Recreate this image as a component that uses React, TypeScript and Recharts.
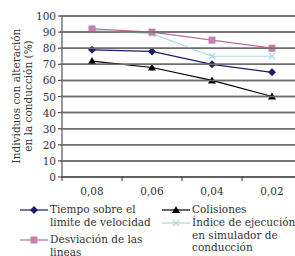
import { LineChart, Line, XAxis, YAxis, CartesianGrid } from "recharts"

const categories = ["0,08", "0,06", "0,04", "0,02"]
const tiempo = [79, 78, 70, 65]
const colisiones = [72, 68, 60, 50]
const desviacion = [92, 90, 85, 80]
const indice = [91, 89, 75, 75]
const yTicks = [0, 10, 20, 30, 40, 50, 60, 70, 80, 90, 100]

const data = categories.map((c, i) => ({
  cat: c,
  tiempo: tiempo[i],
  colisiones: colisiones[i],
  desviacion: desviacion[i],
  indice: indice[i],
}))

const FONT = "'DejaVu Serif', serif"
const NAVY = "#1c1c6a"
const PINK = "#c06a9c"
const CYAN = "#a6dcdc"
const PLOT_W = 240

// eslint-disable-next-line @typescript-eslint/no-explicit-any
const Diamond = (p: any) => (
  <path key={p.index} d={`M${p.cx},${p.cy - 4}L${p.cx + 4},${p.cy}L${p.cx},${p.cy + 4}L${p.cx - 4},${p.cy}Z`} fill={NAVY} />
)
// eslint-disable-next-line @typescript-eslint/no-explicit-any
const Square = (p: any) => (
  <rect key={p.index} x={p.cx - 3.5} y={p.cy - 3.5} width={7} height={7} fill="#c77fae" />
)
// eslint-disable-next-line @typescript-eslint/no-explicit-any
const Triangle = (p: any) => (
  <path key={p.index} d={`M${p.cx},${p.cy - 4}L${p.cx + 4},${p.cy + 3}L${p.cx - 4},${p.cy + 3}Z`} fill="#000" />
)
// eslint-disable-next-line @typescript-eslint/no-explicit-any
const Cross = (p: any) => (
  <path key={p.index} d={`M${p.cx - 3},${p.cy - 3}L${p.cx + 3},${p.cy + 3}M${p.cx + 3},${p.cy - 3}L${p.cx - 3},${p.cy + 3}`} stroke={CYAN} strokeWidth={1.2} />
)

// eslint-disable-next-line @typescript-eslint/no-explicit-any
const XTick = (p: any) => {
  const { x, y, payload, index } = p
  return (
    <g>
      <line x1={x - 30} x2={x - 30} y1={y - 8} y2={y - 4} stroke="#333" />
      {index === categories.length - 1 && (
        <line x1={x + 30} x2={x + 30} y1={y - 8} y2={y - 4} stroke="#333" />
      )}
      <text x={x} y={y + 10} textAnchor="middle" fontSize={10.5} fontFamily={FONT} fill="#333">
        {payload.value}
      </text>
    </g>
  )
}

// y tick label plus the horizontal grid line at the same tick
// eslint-disable-next-line @typescript-eslint/no-explicit-any
const YTick = (p: any) => {
  const axisX = p.x + 4
  return (
    <g>
      {p.payload.value > 0 && (
        <line x1={axisX} x2={axisX + PLOT_W} y1={p.y} y2={p.y} stroke="#6e6e6e" strokeWidth={1.5} />
      )}
      <text x={p.x} y={p.y + 4} textAnchor="end" fontSize={10.5} fontFamily={FONT} fill="#333">
        {p.payload.value}
      </text>
    </g>
  )
}

const YLabel = () => (
  <text transform="translate(20,96) rotate(-90)" textAnchor="middle" fontSize={10.5} fontFamily={FONT} fill="#333">
    <tspan x={0} dy={0}>Individuos con alteración</tspan>
    <tspan x={0} dy={12}>en la conducción (%)</tspan>
  </text>
)

function Sample({ color, marker }: { color: string; marker: string }) {
  return (
    <svg width={30} height={10} style={{ flex: "none", marginTop: 2 }}>
      <line x1={1} x2={29} y1={5} y2={5} stroke={color} strokeWidth={1.2} />
      {marker === "diamond" && <path d="M15,1L19,5L15,9L11,5Z" fill={NAVY} />}
      {marker === "square" && <rect x={11.5} y={1.5} width={7} height={7} fill="#c77fae" />}
      {marker === "triangle" && <path d="M15,1L19,8L11,8Z" fill="#000" />}
      {marker === "cross" && <path d="M12,2L18,8M18,2L12,8" stroke={CYAN} strokeWidth={1.2} />}
    </svg>
  )
}

function LegendBox() {
  const item = (left: number, top: number, color: string, marker: string, lines: string[]) => (
    <div style={{ position: "absolute", left, top, display: "flex", alignItems: "flex-start" }}>
      <Sample color={color} marker={marker} />
      <div style={{ marginLeft: 1, lineHeight: "12.5px" }}>
        {lines.map((l) => (
          <div key={l} style={{ whiteSpace: "nowrap" }}>{l}</div>
        ))}
      </div>
    </div>
  )
  return (
    <div style={{ position: "absolute", left: 0, top: 203, width: 295, height: 53, fontFamily: FONT, fontSize: 10.5, color: "#333" }}>
      {item(19, 0, NAVY, "diamond", ["Tiempo sobre el", "limite de velocidad"])}
      {item(19, 30, PINK, "square", ["Desviación de las", "lineas"])}
      {item(161, 0, "#000", "triangle", ["Colisiones"])}
      {item(161, 13, CYAN, "cross", ["Índice de ejecución", "en simulador de", "conducción"])}
    </div>
  )
}

export default function App() {
  return (
    <div style={{ position: "absolute", left: 0, top: 0, width: 295, height: 256, overflow: "hidden", background: "#fff" }}>
      <LineChart width={310} height={256} data={data} margin={{ top: 16, right: 8, left: 0, bottom: 59 }}>
        <CartesianGrid vertical={false} stroke="#6e6e6e" strokeWidth={1.5} />
        <XAxis
          dataKey="cat"
          padding={{ left: 30, right: 30 }}
          tickLine={false}
          axisLine={{ stroke: "#333" }}
          tick={XTick}
          height={20}
          interval={0}
        />
        <YAxis
          domain={[0, 100]}
          ticks={yTicks}
          width={62}
          interval={0}
          axisLine={{ stroke: "#333" }}
          tickLine={{ stroke: "#333" }}
          tickSize={4}
          tick={YTick}
          label={<YLabel />}
        />
        <Line dataKey="indice" stroke={CYAN} strokeWidth={1.2} dot={Cross} isAnimationActive={false} />
        <Line dataKey="desviacion" stroke={PINK} strokeWidth={1.2} dot={Square} isAnimationActive={false} />
        <Line dataKey="tiempo" stroke={NAVY} strokeWidth={1.2} dot={Diamond} isAnimationActive={false} />
        <Line dataKey="colisiones" stroke="#000" strokeWidth={1.2} dot={Triangle} isAnimationActive={false} />
      </LineChart>
      <LegendBox />
    </div>
  )
}
